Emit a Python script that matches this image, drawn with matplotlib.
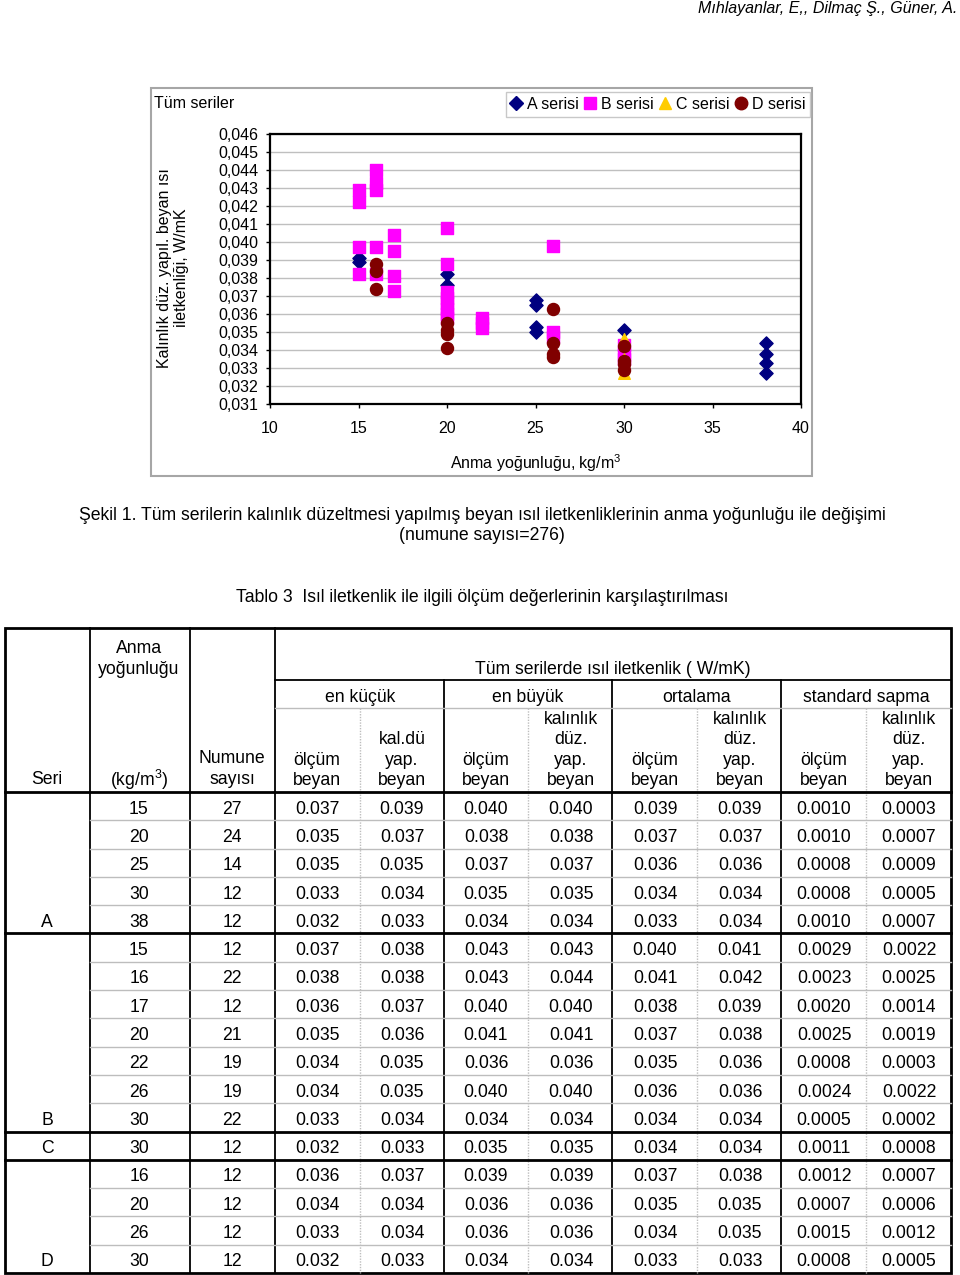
import matplotlib
matplotlib.use("Agg")
import matplotlib.pyplot as plt
from matplotlib.lines import Line2D
from matplotlib.patches import Rectangle
from matplotlib.ticker import FuncFormatter, MultipleLocator

plt.rcParams["font.family"] = ["Liberation Sans", "DejaVu Sans"]
plt.rcParams["mathtext.fontset"] = "custom"
plt.rcParams["mathtext.rm"] = "Liberation Sans"
plt.rcParams["mathtext.it"] = "Liberation Sans:italic"

# Scatter data
a_x = [15, 15, 20, 20, 25, 25, 25, 25, 30, 38, 38, 38, 38]
a_y = [0.0391, 0.0389, 0.0382, 0.0376, 0.0368, 0.0365, 0.0353, 0.0350, 0.0351,
       0.0344, 0.0338, 0.0333, 0.0327]
b_x = [15, 15, 15, 15, 16, 16, 16, 16, 16, 17, 17, 17, 17,
       20, 20, 20, 20, 20, 20, 20, 20, 22, 22, 22, 26, 26, 26, 30, 30, 30]
b_y = [0.0429, 0.0422, 0.0397, 0.0382, 0.0440, 0.0433, 0.0429, 0.0397, 0.0382,
       0.0404, 0.0395, 0.0381, 0.0373,
       0.0408, 0.0388, 0.0372, 0.0369, 0.0366, 0.0363, 0.0360, 0.0358,
       0.0358, 0.0355, 0.0352, 0.0398, 0.0350, 0.0347, 0.0343, 0.0338, 0.0335]
c_x = [30, 30, 30]
c_y = [0.0346, 0.0335, 0.0327]
d_x = [16, 16, 16, 20, 20, 20, 20, 26, 26, 26, 26, 30, 30, 30, 30]
d_y = [0.0388, 0.0384, 0.0374, 0.0355, 0.0351, 0.0349, 0.0341,
       0.0363, 0.0344, 0.0338, 0.0336, 0.0342, 0.0334, 0.0332, 0.0329]

# Table 3 data
seri = ["A"] * 5 + ["B"] * 7 + ["C"] + ["D"] * 4
density = [15, 20, 25, 30, 38, 15, 16, 17, 20, 22, 26, 30, 30, 16, 20, 26, 30]
numune = [27, 24, 14, 12, 12, 12, 22, 12, 21, 19, 19, 22, 12, 12, 12, 12, 12]
min_olcum = [0.037, 0.035, 0.035, 0.033, 0.032, 0.037, 0.038, 0.036, 0.035, 0.034, 0.034, 0.033, 0.032, 0.036, 0.034, 0.033, 0.032]
min_duz = [0.039, 0.037, 0.035, 0.034, 0.033, 0.038, 0.038, 0.037, 0.036, 0.035, 0.035, 0.034, 0.033, 0.037, 0.034, 0.034, 0.033]
max_olcum = [0.040, 0.038, 0.037, 0.035, 0.034, 0.043, 0.043, 0.040, 0.041, 0.036, 0.040, 0.034, 0.035, 0.039, 0.036, 0.036, 0.034]
max_duz = [0.040, 0.038, 0.037, 0.035, 0.034, 0.043, 0.044, 0.040, 0.041, 0.036, 0.040, 0.034, 0.035, 0.039, 0.036, 0.036, 0.034]
ort_olcum = [0.039, 0.037, 0.036, 0.034, 0.033, 0.040, 0.041, 0.038, 0.037, 0.035, 0.036, 0.034, 0.034, 0.037, 0.035, 0.034, 0.033]
ort_duz = [0.039, 0.037, 0.036, 0.034, 0.034, 0.041, 0.042, 0.039, 0.038, 0.036, 0.036, 0.034, 0.034, 0.038, 0.035, 0.035, 0.033]
std_olcum = [0.0010, 0.0010, 0.0008, 0.0008, 0.0010, 0.0029, 0.0023, 0.0020, 0.0025, 0.0008, 0.0024, 0.0005, 0.0011, 0.0012, 0.0007, 0.0015, 0.0008]
std_duz = [0.0003, 0.0007, 0.0009, 0.0005, 0.0007, 0.0022, 0.0025, 0.0014, 0.0019, 0.0003, 0.0022, 0.0002, 0.0008, 0.0007, 0.0006, 0.0012, 0.0005]

W, H = 960, 1275
fig = plt.figure(figsize=(W / 100, H / 100), dpi=100)

# page overlay in pixel coordinates
pg = fig.add_axes([0, 0, 1, 1])
pg.set_xlim(0, W)
pg.set_ylim(H, 0)
pg.axis("off")

pg.text(957, 8, "Mıhlayanlar, E,, Dilmaç Ş., Güner, A.", ha="right", va="center",
        fontsize=11.5, style="italic")

# chart frame
cfs = 11.5
pg.add_patch(Rectangle((151, 88), 661, 388, fill=False, edgecolor="#a6a6a6", lw=1.5))
pg.text(154, 103, "Tüm seriler", ha="left", va="center", fontsize=cfs)
pg.text(173, 268, "Kalınlık düz. yapıl. beyan ısı\niletkenliği, W/mK", rotation=90,
        ha="center", va="center", fontsize=cfs, linespacing=1.2)

# scatter axes
x0, x1, y0, y1 = 270, 801, 134, 404
ax = fig.add_axes([x0 / W, 1 - y1 / H, (x1 - x0) / W, (y1 - y0) / H])
ax.scatter(a_x, a_y, marker="D", s=45, color="#000080", zorder=3)
ax.scatter(b_x, b_y, marker="s", s=85, color="#ff00ff", zorder=4)
ax.scatter(c_x, c_y, marker="^", s=70, color="#ffcc00", zorder=5)
ax.scatter(d_x, d_y, marker="o", s=75, color="#800000", zorder=6)
ax.set_xlim(10, 40)
ax.set_ylim(0.031, 0.046)
ax.xaxis.set_major_locator(MultipleLocator(5))
ax.yaxis.set_major_locator(MultipleLocator(0.001))
ax.yaxis.set_major_formatter(FuncFormatter(lambda v, p: f"{v:.3f}".replace(".", ",")))
ax.grid(axis="y", color="#bfbfbf", lw=1)
ax.set_axisbelow(True)
ax.tick_params(axis="both", labelsize=cfs, length=3, width=1)
ax.tick_params(axis="x", pad=9)
ax.tick_params(axis="y", pad=5.5)
for sp in ax.spines.values():
    sp.set_linewidth(1.6)
ax.set_xlabel("Anma yoğunluğu, kg/m$^3$", fontsize=cfs, labelpad=12)

handles = [
    Line2D([], [], marker="D", ls="", color="#000080", markersize=7),
    Line2D([], [], marker="s", ls="", color="#ff00ff", markersize=9),
    Line2D([], [], marker="^", ls="", color="#ffcc00", markersize=9),
    Line2D([], [], marker="o", ls="", color="#800000", markersize=9),
]
leg = fig.legend(handles, ["A serisi", "B serisi", "C serisi", "D serisi"], ncol=4,
                 loc="upper right", bbox_to_anchor=(810 / W, 1 - 92 / H), fontsize=cfs,
                 handlelength=0.7, handletextpad=0.3, columnspacing=0.4, borderpad=0.3,
                 borderaxespad=0, fancybox=False, framealpha=1, edgecolor="#c8c8c8")
leg.get_frame().set_linewidth(1)

# captions
fs = 12.7
pg.text(482, 515, "Şekil 1. Tüm serilerin kalınlık düzeltmesi yapılmış beyan ısıl iletkenliklerinin anma yoğunluğu ile değişimi",
        ha="center", va="center", fontsize=fs)
pg.text(482, 535, "(numune sayısı=276)", ha="center", va="center", fontsize=fs)
pg.text(482, 597, "Tablo 3  Isıl iletkenlik ile ilgili ölçüm değerlerinin karşılaştırılması",
        ha="center", va="center", fontsize=fs)

# table
L, R, T, B = 5, 951, 628, 1273
HB = 792
row_h = (B - HB) / len(density)
dark = "#000000"
light = "#bdbdbd"

pg.add_patch(Rectangle((L, T), R - L, B - T, fill=False, edgecolor=dark, lw=2))
for xv in [90, 190, 275]:
    pg.plot([xv, xv], [T, B], color=dark, lw=1.3)
for xv in [444, 612, 781]:
    pg.plot([xv, xv], [680, B], color=dark, lw=1.3)
for xv in [360, 528, 697, 866]:
    pg.plot([xv, xv], [708, B], color=light, lw=1, ls=(0, (1, 1)))
pg.plot([275, R], [680, 680], color=dark, lw=1.3)
pg.plot([275, R], [708, 708], color=light, lw=1)
pg.plot([L, R], [HB, HB], color=dark, lw=2)

# header texts
ls = 1.25
pg.text(47, 779, "Seri", ha="center", va="center", fontsize=fs)
pg.text(139, 659, "Anma\nyoğunluğu", ha="center", va="center", fontsize=fs, linespacing=ls)
pg.text(139, 780, "(kg/m$^3$)", ha="center", va="center", fontsize=fs)
pg.text(232, 769, "Numune\nsayısı", ha="center", va="center", fontsize=fs, linespacing=ls)
pg.text(613, 669, "Tüm serilerde ısıl iletkenlik ( W/mK)", ha="center", va="center", fontsize=fs)
for xc, lab in zip([360, 528, 697, 866], ["en küçük", "en büyük", "ortalama", "standard sapma"]):
    pg.text(xc, 697, lab, ha="center", va="center", fontsize=fs)
sub_x = [317, 402, 486, 571, 655, 740, 824, 909]
sub_lab = ["ölçüm\nbeyan", "kal.dü\nyap.\nbeyan", "ölçüm\nbeyan", "kalınlık\ndüz.\nyap.\nbeyan",
           "ölçüm\nbeyan", "kalınlık\ndüz.\nyap.\nbeyan", "ölçüm\nbeyan", "kalınlık\ndüz.\nyap.\nbeyan"]
for xc, lab in zip(sub_x, sub_lab):
    pg.text(xc, 789, lab, ha="center", va="bottom", fontsize=fs, linespacing=ls)

# body
cols = [min_olcum, min_duz, max_olcum, max_duz, ort_olcum, ort_duz, std_olcum, std_duz]
digits = [3, 3, 3, 3, 3, 3, 4, 4]
for i in range(len(density)):
    yc = HB + (i + 0.5) * row_h + 3
    pg.text(139, yc, str(density[i]), ha="center", va="center", fontsize=fs)
    pg.text(232, yc, str(numune[i]), ha="center", va="center", fontsize=fs)
    for xc, col, d in zip(sub_x, cols, digits):
        pg.text(xc, yc, f"{col[i]:.{d}f}", ha="center", va="center", fontsize=fs)
    ybot = HB + (i + 1) * row_h
    last = i == len(density) - 1 or seri[i + 1] != seri[i]
    if last:
        pg.text(47, yc, seri[i], ha="center", va="center", fontsize=fs)
        if i < len(density) - 1:
            pg.plot([L, R], [ybot, ybot], color=dark, lw=2)
    else:
        pg.plot([90, R], [ybot, ybot], color=light, lw=1)

fig.savefig("out.png", dpi=100)
